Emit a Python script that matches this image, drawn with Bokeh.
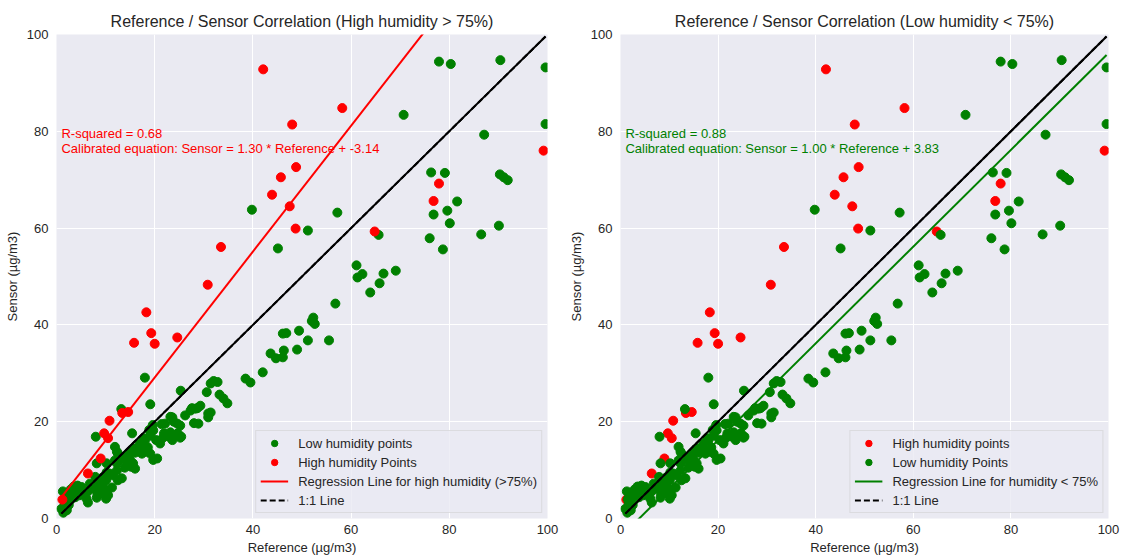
from bokeh.plotting import figure
from bokeh.layouts import row
from bokeh.models import Range1d, Legend, LegendItem, Label, FixedTicker
from bokeh.embed import file_html
from bokeh.resources import INLINE

# ---- measurements: reference monitor vs low-cost sensor (µg/m3) ----
# humidity > 75 %
ref_high = [1.2, 6.4, 9.0, 9.7, 10.5, 10.8, 13.4, 14.6, 15.8, 18.3, 19.3, 20.0,
            24.6, 30.8, 33.5, 42.1, 43.9, 45.7, 47.5, 48.0, 48.7, 48.8, 58.2,
            64.8, 76.8, 77.9, 99.2]
sens_high = [3.9, 9.3, 12.4, 17.6, 16.6, 20.2, 21.8, 22.0, 36.3, 42.6, 38.3, 36.1,
             37.4, 48.3, 56.1, 92.8, 66.9, 70.5, 64.5, 81.4, 59.9, 72.6, 84.8,
             59.3, 65.6, 69.2, 76.0]

# humidity < 75 %
ref_low = [
    1.0, 1.4, 1.7, 2.1, 2.5, 2.9, 1.5, 2.1, 3.2, 1.3, 2.2, 2.9, 3.8, 4.2, 4.7,
    5.1, 5.5, 4.3, 3.5, 6.1, 6.4, 6.4, 6.8, 7.3,
    8.0, 8.2, 7.9, 8.4, 8.8, 8.2, 8.3, 9.0, 9.4, 9.4, 10.1, 10.5, 10.1, 11.3,
    10.2, 11.5, 12.3, 12.5, 13.3, 10.2, 11.9, 12.5, 11.9, 12.3, 10.1, 9.4, 10.8,
    13.2, 15.4, 18.0, 13.9, 15.0, 15.6, 16.0, 15.2, 14.5, 15.6, 16.3, 17.0, 17.6,
    18.6, 19.1, 20.5, 19.7, 15.2, 14.8, 14.1, 14.5, 13.0, 12.3, 17.4, 18.1, 16.0,
    17.8, 18.0, 18.9, 19.6, 19.1, 19.7, 19.1,
    20.3, 21.1, 21.7, 21.4, 21.9, 22.1, 22.9, 23.2, 23.6, 23.8, 24.0, 24.7, 25.2,
    25.4, 23.2, 23.6, 23.9, 24.6, 25.2, 26.2, 25.3, 27.3, 27.6, 28.3, 28.0, 28.9,
    28.7, 29.3, 30.6, 30.9, 30.9, 31.4, 31.4, 32.0, 32.8, 33.2, 34.0, 34.8,
    38.5, 39.5, 42.0, 43.6, 44.7, 46.1, 46.3, 46.1, 46.8, 49.0, 49.4, 51.2, 55.5,
    52.3, 52.0, 52.6, 56.8, 61.1, 61.3, 62.3, 63.9, 65.8, 66.6, 69.1,
    39.8, 45.1, 51.2, 57.2, 65.6, 70.7, 76.0, 76.3, 76.8, 77.9, 78.7, 79.1, 79.6,
    80.1, 80.3, 81.6, 86.5, 87.1, 90.1, 90.4, 90.3, 91.1, 91.9, 99.6, 99.6,
]
sens_low = [
    2.0, 1.2, 3.2, 1.7, 2.8, 3.9, 4.0, 4.4, 4.9, 5.6, 5.3, 6.0, 4.4, 5.8, 4.8,
    6.5, 5.2, 6.8, 6.6, 4.1, 3.3, 5.6, 7.2, 6.3,
    16.9, 11.4, 8.6, 7.9, 7.2, 4.3, 5.2, 6.2, 5.2, 8.5, 4.1, 4.8, 5.9, 6.4,
    9.5, 8.9, 9.9, 7.9, 8.3, 11.4, 12.0, 13.4, 14.8, 13.8, 7.9, 7.2, 9.3,
    22.6, 17.6, 29.1, 10.5, 12.0, 11.4, 10.3, 10.7, 13.4, 14.5, 14.5, 15.5, 14.0,
    14.7, 13.4, 12.4, 12.1, 13.8, 12.4, 12.8, 11.7, 12.1, 11.4, 13.4, 13.8, 13.6,
    16.6, 16.1, 18.3, 19.3, 17.1, 18.2, 23.6,
    16.2, 15.5, 16.7, 19.5, 17.6, 19.6, 16.9, 17.8, 16.2, 17.1, 17.2, 17.6, 16.7,
    16.9, 21.0, 20.9, 20.0, 19.6, 19.2, 21.3, 26.4, 22.3, 22.8, 22.7, 19.7, 19.6,
    22.8, 23.3, 26.1, 21.7, 20.9, 21.9, 27.9, 28.4, 28.2, 25.6, 24.8, 23.8,
    28.9, 28.1, 30.2, 34.1, 33.1, 33.3, 34.7, 38.2, 38.3, 34.9, 38.8, 36.8, 36.8,
    41.5, 40.8, 40.2, 44.4, 52.3, 49.8, 50.5, 46.7, 48.6, 50.6, 51.2,
    63.8, 55.8, 59.5, 63.2, 58.6, 83.4, 57.9, 71.5, 62.8, 94.4, 55.6, 71.4, 63.6,
    61.0, 93.9, 65.5, 58.7, 79.3, 60.5, 94.7, 71.1, 70.5, 69.9, 93.2, 81.5,
]

# calibration results, as reported on each panel
high_r2, high_slope, high_intercept = 0.68, 1.30, -3.14
low_r2, low_slope, low_intercept = 0.88, 1.00, 3.83

axis_ticks = [0, 20, 40, 60, 80, 100]

FONT = "Liberation Sans"
INK = "#262626"
PANEL_BG = "#EAEAF2"
GREEN = "#008000"
RED = "#ff0000"

all_ref = ref_low + ref_high
x_lo, x_hi = min(all_ref), max(all_ref)


def base_panel(title, width, left, right):
    p = figure(width=width, height=557, title=title,
               x_range=Range1d(0, 100), y_range=Range1d(0, 100),
               output_backend="svg", toolbar_location=None,
               min_border_left=left, min_border_right=right,
               min_border_top=34, min_border_bottom=39)
    p.background_fill_color = PANEL_BG
    p.border_fill_color = "white"
    p.outline_line_color = None
    p.title.align = "center"
    p.title.text_font = FONT
    p.title.text_font_size = "16px"
    p.title.text_font_style = "normal"
    p.title.text_color = INK
    p.title.standoff = 10
    for ax in (p.xaxis, p.yaxis):
        ax.ticker = FixedTicker(ticks=axis_ticks)
        ax.axis_line_color = None
        ax.major_tick_line_color = None
        ax.minor_tick_line_color = None
        ax.major_tick_out = 0
        ax.major_tick_in = 0
        ax.major_label_text_font = FONT
        ax.major_label_text_font_size = "13px"
        ax.major_label_text_color = INK
        ax.axis_label_text_font = FONT
        ax.axis_label_text_font_size = "13px"
        ax.axis_label_text_font_style = "normal"
        ax.axis_label_text_color = INK
    p.xaxis.axis_label = "Reference (µg/m3)"
    p.yaxis.axis_label = "Sensor (µg/m3)"
    p.xaxis.major_label_standoff = 6
    p.yaxis.major_label_standoff = 8
    p.xaxis.axis_label_standoff = 3
    p.yaxis.axis_label_standoff = 4
    p.xgrid.ticker = FixedTicker(ticks=axis_ticks)
    p.ygrid.ticker = FixedTicker(ticks=axis_ticks)
    p.grid.grid_line_color = "white"
    p.grid.grid_line_width = 1
    return p


def one_to_one(p):
    # solid stroke underneath, dashed copy on top for the legend swatch
    p.line([x_lo, x_hi], [x_lo, x_hi], line_color="black", line_width=2)
    return p.line([x_lo, x_hi], [x_lo, x_hi], line_color="black",
                  line_width=2, line_dash="6 3")


def fit_labels(p, color, r2, slope, intercept):
    eq = f"Calibrated equation: Sensor = {slope:.2f} * Reference + {intercept:.2f}"
    common = dict(x=1, y=76.5, text_color=color, text_font=FONT,
                  text_font_size="13px", text_baseline="alphabetic")
    p.add_layout(Label(text=f"R-squared = {r2:.2f}", y_offset=14.5, **common))
    p.add_layout(Label(text=eq, **common))


def make_legend(items):
    return Legend(items=items, location="bottom_right",
                  label_text_font=FONT, label_text_font_size="13px",
                  label_text_color=INK, glyph_width=28, glyph_height=16,
                  label_height=16, label_standoff=10, spacing=3, padding=4,
                  margin=5, background_fill_color=PANEL_BG,
                  background_fill_alpha=0.8, border_line_color="#cccccc",
                  border_line_width=1)


# ---- left panel: high humidity calibration ----
p1 = base_panel("Reference / Sensor Correlation (High humidity > 75%)", 560, 56, 13)
g1 = p1.scatter(ref_low, sens_low, size=9, fill_color=GREEN, line_color=GREEN)
r1 = p1.scatter(ref_high, sens_high, size=9, fill_color=RED, line_color=RED)
# calibration line: slope * reference - intercept
fit1 = p1.line([x_lo, x_hi],
               [high_slope * x_lo - high_intercept, high_slope * x_hi - high_intercept],
               line_color=RED, line_width=2)
id1 = one_to_one(p1)
fit_labels(p1, RED, high_r2, high_slope, high_intercept)
p1.add_layout(make_legend([
    LegendItem(label="Low humidity points", renderers=[g1]),
    LegendItem(label="High humidity Points", renderers=[r1]),
    LegendItem(label="Regression Line for high humidity (>75%)", renderers=[fit1]),
    LegendItem(label="1:1 Line", renderers=[id1]),
]))

# ---- right panel: low humidity calibration ----
p2 = base_panel("Reference / Sensor Correlation (Low humidity < 75%)", 562, 60, 14)
r2 = p2.scatter(ref_high, sens_high, size=9, fill_color=RED, line_color=RED)
g2 = p2.scatter(ref_low, sens_low, size=9, fill_color=GREEN, line_color=GREEN)
fit2 = p2.line([x_lo, x_hi],
               [low_slope * x_lo - low_intercept, low_slope * x_hi - low_intercept],
               line_color=GREEN, line_width=2)
id2 = one_to_one(p2)
fit_labels(p2, GREEN, low_r2, low_slope, low_intercept)
p2.add_layout(make_legend([
    LegendItem(label="High humidity points", renderers=[r2]),
    LegendItem(label="Low humidity Points", renderers=[g2]),
    LegendItem(label="Regression Line for humidity < 75%", renderers=[fit2]),
    LegendItem(label="1:1 Line", renderers=[id2]),
]))

layout = row(p1, p2)
open("out.html", "w").write(file_html(layout, INLINE))
